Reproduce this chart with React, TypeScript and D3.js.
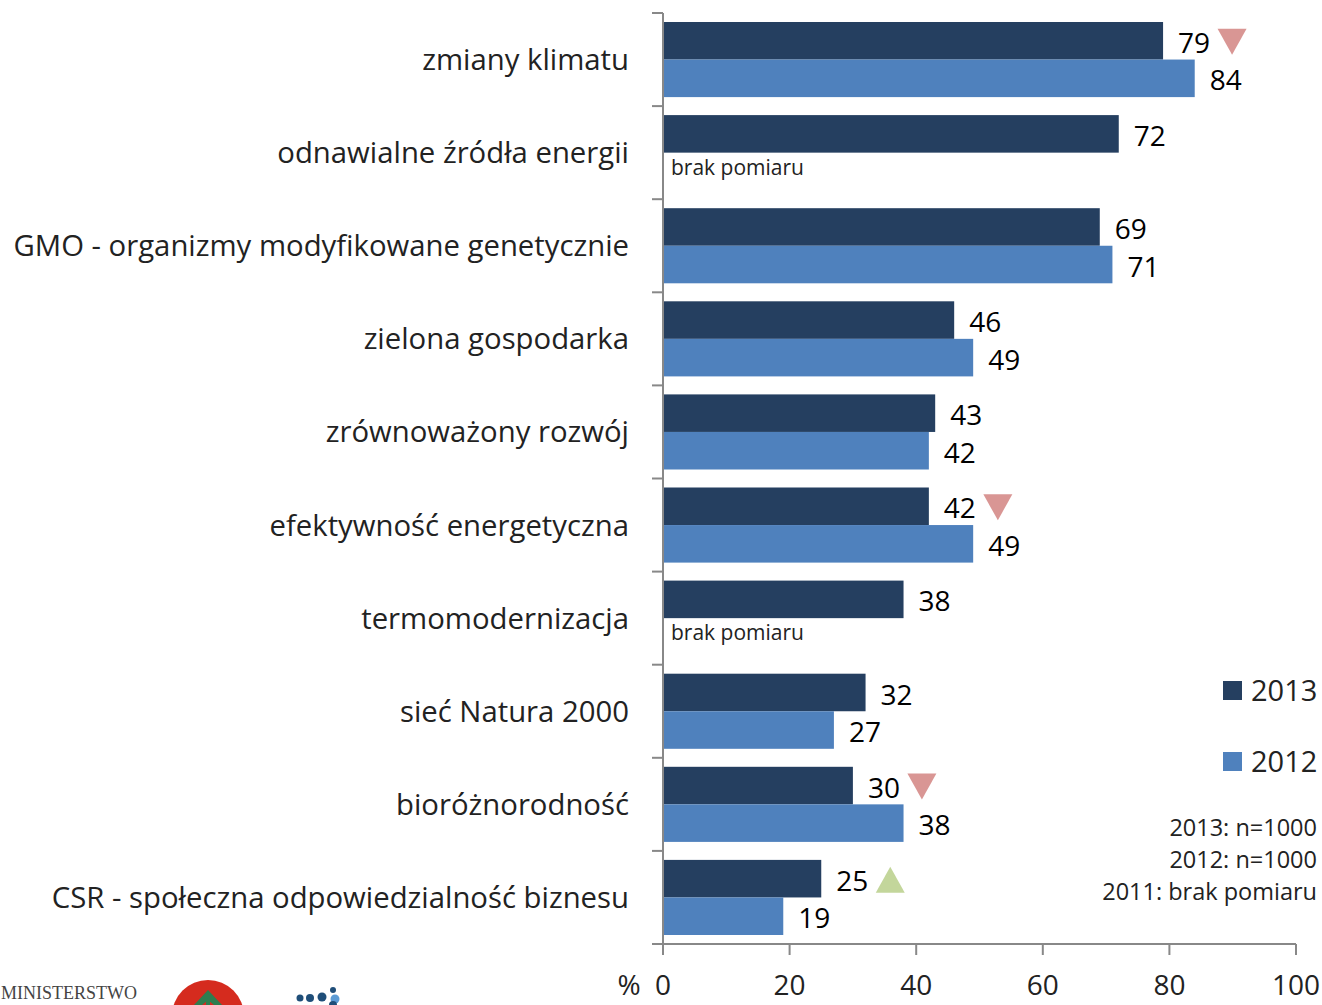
import React from 'react';
import * as d3 from 'd3';

const categories = [
  'zmiany klimatu',
  'odnawialne źródła energii',
  'GMO - organizmy modyfikowane genetycznie',
  'zielona gospodarka',
  'zrównoważony rozwój',
  'efektywność energetyczna',
  'termomodernizacja',
  'sieć Natura 2000',
  'bioróżnorodność',
  'CSR - społeczna odpowiedzialność biznesu',
];
const values2013 = [79, 72, 69, 46, 43, 42, 38, 32, 30, 25];
const values2012: (number | null)[] = [84, null, 71, 49, 42, 49, null, 27, 38, 19];
// change markers: 'down' / 'up' / null
const markers: (string | null)[] = ['down', null, null, null, null, 'down', null, null, 'down', 'up'];
const xTicks = [0, 20, 40, 60, 80, 100];
const seriesNames = ['2013', '2012'];
const notes = ['2013: n=1000', '2012: n=1000', '2011: brak pomiaru'];

const W = 1322;
const H = 1005;
const font = '"Open Sans", "DejaVu Sans", sans-serif';
const dark = '#253F60';
const light = '#4F81BD';
const axisColor = '#888888';
const textColor = '#222222';

const App: React.FC = () => {
  const x = d3.scaleLinear().domain([0, 100]).range([663, 1296]);
  const y = d3.scaleBand<string>().domain(categories).range([13, 944]);
  const inner = d3.scaleBand<string>().domain(seriesNames).range([9, y.bandwidth() - 9]);

  const bounds = categories.map(c => y(c)!).concat([944]);

  return (
    <svg width={W} height={H} style={{ position: 'absolute', left: 0, top: 0 }} fontFamily={font}>
      {/* bars */}
      {categories.map((c, i) => {
        const y0 = y(c)!;
        const b13 = y0 + inner('2013')!;
        const b12 = y0 + inner('2012')!;
        const bh = inner.bandwidth();
        const v12 = values2012[i];
        const v13 = values2013[i];
        const m = markers[i];
        const mx = x(v13) + 69;
        const my = b13 + bh / 2 + 1;
        return (
          <g key={c}>
            <rect x={x(0)} y={b13} width={x(v13) - x(0)} height={bh} fill={dark} />
            <text x={x(v13) + 15} y={b13 + bh / 2 + 2} dy="0.36em" fontSize={28} fill="#000">{v13}</text>
            {v12 !== null ? (
              <>
                <rect x={x(0)} y={b12} width={x(v12) - x(0)} height={bh} fill={light} />
                <text x={x(v12) + 15} y={b12 + bh / 2 + 2} dy="0.36em" fontSize={28} fill="#000">{v12}</text>
              </>
            ) : (
              <text x={x(0) + 8} y={b12 + bh / 2 - 4} dy="0.36em" fontSize={21} fill={textColor}>brak pomiaru</text>
            )}
            {m === 'down' && (
              <path d={`M${mx - 14.5},${my - 13}L${mx + 14.5},${my - 13}L${mx},${my + 13}Z`} fill="#D99694" />
            )}
            {m === 'up' && (
              <path d={`M${mx - 14.5},${my + 13}L${mx + 14.5},${my + 13}L${mx},${my - 13}Z`} fill="#C3D69B" />
            )}
            <text x={629} y={y0 + y.bandwidth() / 2} dy="0.36em" textAnchor="end" fontSize={29.3} fill={textColor}>{c}</text>
          </g>
        );
      })}

      {/* left axis */}
      <line x1={x(0)} x2={x(0)} y1={13} y2={944} stroke={axisColor} strokeWidth={2} />
      {bounds.map((b, i) => (
        <line key={i} x1={652} x2={x(0)} y1={b} y2={b} stroke={axisColor} strokeWidth={2} />
      ))}
      {/* bottom axis */}
      <line x1={652} x2={x(100)} y1={944} y2={944} stroke={axisColor} strokeWidth={2} />
      {xTicks.map(t => (
        <g key={t}>
          <line x1={x(t)} x2={x(t)} y1={944} y2={955} stroke={axisColor} strokeWidth={2} />
          <text x={x(t)} y={995} textAnchor="middle" fontSize={28} fill={textColor}>{t}</text>
        </g>
      ))}
      <text x={629} y={995} textAnchor="middle" fontSize={28} fill={textColor}>%</text>

      {/* legend */}
      {seriesNames.map((s, i) => (
        <g key={s} transform={`translate(1223, ${681 + i * 71})`}>
          <rect width={19} height={19} fill={i === 0 ? dark : light} />
          <text x={28} y={10} dy="0.36em" fontSize={29} fill={textColor}>{s}</text>
        </g>
      ))}
      {notes.map((n, i) => (
        <text key={n} x={1317} y={828 + i * 32} dy="0.36em" textAnchor="end" fontSize={23.5} fill={textColor}>{n}</text>
      ))}

      {/* logos at bottom */}
      <text x={1} y={999} fontFamily='"Liberation Serif", serif' fontSize={18} fill="#444">MINISTERSTWO</text>
      <circle cx={208} cy={1016} r={36} fill="#D52B1E" />
      <path d="M208,990 L222,1005 L214,1005 L208,1000 L202,1005 L194,1005 Z" fill="#2E7D4F" />
      <rect x={206} y={996} width={4} height={14} fill="#2E7D4F" />
      {[[333, 990, 3, '#1F4E79'], [300, 998, 3.5, '#1F4E79'], [310, 998, 4, '#1F4E79'], [322, 997, 4.5, '#1F4E79'], [335, 999, 4.5, '#5B9BD5'], [333, 1005, 4, '#1F4E79']].map((d, i) => (
        <circle key={i} cx={d[0] as number} cy={d[1] as number} r={d[2] as number} fill={d[3] as string} />
      ))}
    </svg>
  );
};

export default App;
